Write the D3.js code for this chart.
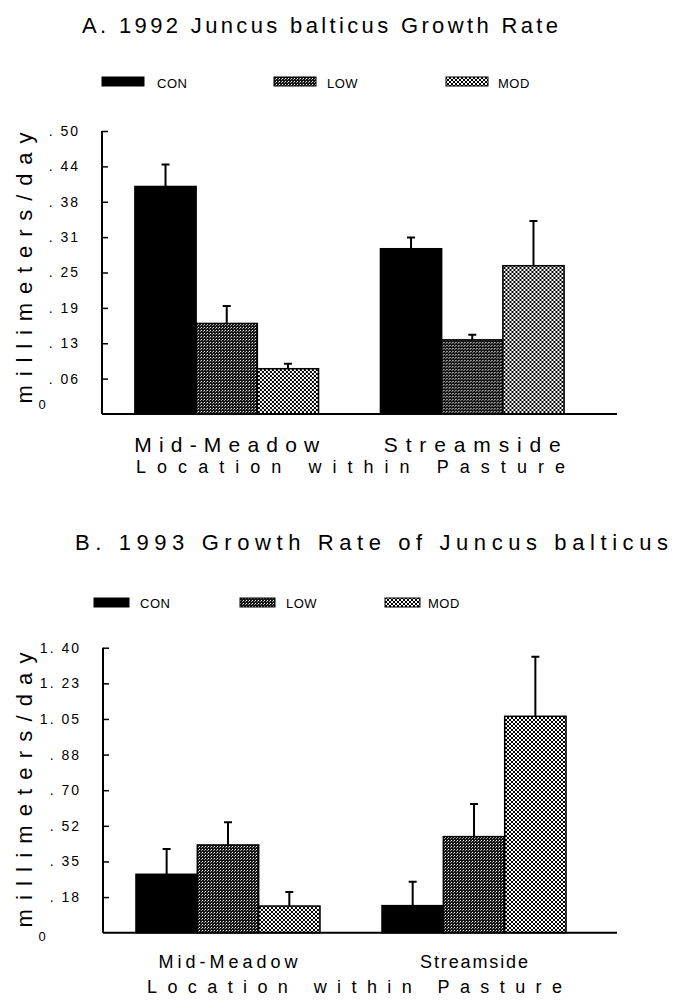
<!DOCTYPE html>
<html>
<head>
<meta charset="utf-8">
<script src="https://cdn.jsdelivr.net/npm/d3@7"></script>
<style>
  body { margin: 0; background: #fff; }
  svg { display: block; font-family: "Liberation Sans", Arial, sans-serif; }
  text { fill: #000; }
</style>
</head>
<body>
<svg id="chart" width="675" height="1001"></svg>
<script>
// categories
const locations = ["Mid-Meadow", "Streamside"];
const treatments = ["CON", "LOW", "MOD"];

// 1992 means and standard errors (mm/day), one value per location
const con1992 = [0.402, 0.292];
const low1992 = [0.160, 0.131];
const mod1992 = [0.080, 0.262];
const conSe1992 = [0.039, 0.020];
const lowSe1992 = [0.031, 0.009];
const modSe1992 = [0.009, 0.079];

// 1993
const con1993 = [0.287, 0.133];
const low1993 = [0.431, 0.472];
const mod1993 = [0.131, 1.063];
const conSe1993 = [0.124, 0.117];
const lowSe1993 = [0.111, 0.160];
const modSe1993 = [0.069, 0.293];

// axis ticks
const tickVals1992 = [0.0625, 0.125, 0.1875, 0.25, 0.3125, 0.375, 0.4375, 0.5];
const tickLabels1992 = [". 06", ". 13", ". 19", ". 25", ". 31", ". 38", ". 44", ". 50"];
const tickVals1993 = [0.175, 0.35, 0.525, 0.7, 0.875, 1.05, 1.225, 1.4];
const tickLabels1993 = [". 18", ". 35", ". 52", ". 70", ". 88", "1. 05", "1. 23", "1. 40"];

const svg = d3.select("#chart");

// fill patterns
const defs = svg.append("defs");
const pLow = defs.append("pattern")
  .attr("id", "pat-low").attr("patternUnits", "userSpaceOnUse")
  .attr("width", 3).attr("height", 3);
pLow.append("rect").attr("width", 3).attr("height", 3).attr("fill", "#151515");
pLow.append("rect").attr("x", 0).attr("y", 0).attr("width", 1).attr("height", 1).attr("fill", "#fff");
pLow.append("rect").attr("x", 2).attr("y", 1).attr("width", 1).attr("height", 1).attr("fill", "#999");

const pMod = defs.append("pattern")
  .attr("id", "pat-mod").attr("patternUnits", "userSpaceOnUse")
  .attr("width", 4).attr("height", 4);
pMod.append("rect").attr("width", 4).attr("height", 4).attr("fill", "#fff");
pMod.append("path").attr("d", "M0,0L4,4M4,0L0,4")
  .attr("stroke", "#000").attr("stroke-width", 1);

const fills = { CON: "#000", LOW: "url(#pat-low)", MOD: "url(#pat-mod)" };

function drawPanel(p) {
  const g = svg.append("g");

  const rows = locations.map((loc, i) => ({
    loc,
    vals: [
      { t: "CON", v: p.con[i], se: p.conSe[i] },
      { t: "LOW", v: p.low[i], se: p.lowSe[i] },
      { t: "MOD", v: p.mod[i], se: p.modSe[i] }
    ]
  }));

  const y = d3.scaleLinear().domain([0, p.max]).range([p.base, p.top]);
  const x0 = d3.scaleBand().domain(locations).range([p.axisX, p.bandEnd])
    .paddingInner(0.252).paddingOuter(0.134);
  const x1 = d3.scaleBand().domain(treatments).range([0, x0.bandwidth()]);

  // title
  g.append("text")
    .attr("x", p.titleX).attr("y", p.titleY)
    .attr("font-size", 22)
    .attr("textLength", p.titleLen).attr("lengthAdjust", "spacing")
    .text(p.title);

  // legend
  const leg = g.selectAll(".leg").data(treatments).enter().append("g");
  leg.append("rect")
    .attr("x", (d, i) => p.legBox[i]).attr("y", p.legY)
    .attr("width", p.legW).attr("height", p.legH)
    .attr("fill", d => fills[d]).attr("stroke", "#000").attr("stroke-width", 1);
  leg.append("text")
    .attr("x", (d, i) => p.legText[i]).attr("y", p.legTextY)
    .attr("font-size", 13).attr("letter-spacing", 0.5)
    .text(d => d);

  // bars
  const grp = g.selectAll(".grp").data(rows).enter().append("g")
    .attr("transform", d => `translate(${x0(d.loc)},0)`);

  grp.selectAll(".err").data(d => d.vals).enter().append("path")
    .attr("d", d => {
      const cx = x1(d.t) + x1.bandwidth() / 2;
      const y1 = y(d.v), y2 = y(d.v + d.se);
      return `M${cx},${y1}V${y2}M${cx - 4},${y2}H${cx + 4}`;
    })
    .attr("stroke", "#000").attr("stroke-width", 2).attr("fill", "none");

  grp.selectAll(".bar").data(d => d.vals).enter().append("rect")
    .attr("x", d => x1(d.t)).attr("width", x1.bandwidth())
    .attr("y", d => y(d.v)).attr("height", d => y(0) - y(d.v))
    .attr("fill", d => fills[d.t])
    .attr("stroke", "#000").attr("stroke-width", 1.5);

  // y axis with inward ticks
  const yAxis = d3.axisLeft(y)
    .tickValues(p.tickVals)
    .tickFormat((d, i) => p.tickLabels[i])
    .tickSize(-6).tickPadding(22);
  const ax = g.append("g").attr("transform", `translate(${p.axisX},0)`).call(yAxis);
  ax.attr("font-size", null).attr("font-family", null);
  ax.select(".domain").remove();
  ax.selectAll(".tick line").attr("stroke-width", 1.5);
  ax.selectAll(".tick text")
    .style("font-size", "14px").style("letter-spacing", "2px")
    .style("white-space", "pre");
  g.append("line")
    .attr("x1", p.axisX).attr("x2", p.axisX)
    .attr("y1", y(p.max)).attr("y2", y(0))
    .attr("stroke", "#000").attr("stroke-width", 2);
  g.append("line")
    .attr("x1", p.axisX).attr("x2", p.axisEnd)
    .attr("y1", y(0)).attr("y2", y(0))
    .attr("stroke", "#000").attr("stroke-width", 2);

  // zero label
  g.append("text")
    .attr("x", 42).attr("y", y(0) + p.zeroDy)
    .attr("text-anchor", "middle").attr("font-size", 13)
    .text("0");

  // y label
  g.append("text")
    .attr("transform", `translate(32,${p.yLabCy}) rotate(-90)`)
    .attr("text-anchor", "middle").attr("font-size", 22)
    .attr("textLength", p.yLabLen).attr("lengthAdjust", "spacing")
    .text("millimeters/day");

  // category labels
  g.selectAll(".cat").data(locations).enter().append("text")
    .attr("x", d => x0(d) + x0.bandwidth() / 2).attr("y", p.catY)
    .attr("text-anchor", "middle").attr("font-size", p.catSize)
    .attr("textLength", (d, i) => p.catLen[i]).attr("lengthAdjust", "spacing")
    .text(d => d);

  g.append("text")
    .attr("x", p.xLabX).attr("y", p.xLabY)
    .attr("font-size", 18)
    .attr("textLength", p.xLabLen).attr("lengthAdjust", "spacing")
    .text("Location within Pasture");
}

drawPanel({
  title: "A. 1992 Juncus balticus Growth Rate",
  titleX: 82, titleY: 33, titleLen: 476,
  con: con1992, low: low1992, mod: mod1992,
  conSe: conSe1992, lowSe: lowSe1992, modSe: modSe1992,
  max: 0.5, top: 131, base: 414,
  axisX: 102, bandEnd: 597, axisEnd: 617,
  tickVals: tickVals1992, tickLabels: tickLabels1992,
  legBox: [102, 274, 446], legW: 42, legH: 9, legY: 77,
  legText: [157, 327, 498], legTextY: 88,
  zeroDy: -5, yLabCy: 268, yLabLen: 271,
  catY: 452, catSize: 21, catLen: [185, 177],
  xLabX: 136, xLabY: 473, xLabLen: 429
});

drawPanel({
  title: "B. 1993 Growth Rate of Juncus balticus",
  titleX: 75, titleY: 550, titleLen: 593,
  con: con1993, low: low1993, mod: mod1993,
  conSe: conSe1993, lowSe: lowSe1993, modSe: modSe1993,
  max: 1.4, top: 647.7, base: 932.7,
  axisX: 103, bandEnd: 599, axisEnd: 617,
  tickVals: tickVals1993, tickLabels: tickLabels1993,
  legBox: [94, 240, 385], legW: 35, legH: 9, legY: 598,
  legText: [140, 286, 428], legTextY: 608,
  zeroDy: 8, yLabCy: 790, yLabLen: 275,
  catY: 968, catSize: 18, catLen: [139, 108],
  xLabX: 147, xLabY: 993, xLabLen: 415
});
</script>
</body>
</html>
